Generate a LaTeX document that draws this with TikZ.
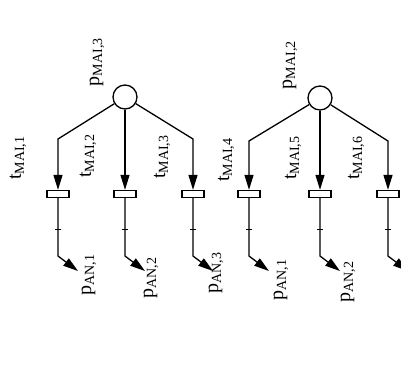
\documentclass[tikz,border=0pt]{standalone}
\usepackage{fontspec}
\setmainfont{Liberation Serif}
\usetikzlibrary{arrows.meta,positioning}

\newcommand{\pn}[2]{#1\textsubscript{#2}}

\begin{document}
\begin{tikzpicture}[x=1pt, y=-1pt,
    place/.style={circle, draw, line width=1.3pt, minimum size=24pt, inner sep=0pt},
    trans/.style={rectangle, draw, fill=white, line width=1.3pt, minimum width=22pt, minimum height=7pt, inner sep=0pt},
    arc/.style={line width=1.3pt, -{Triangle[length=15pt, width=9pt]}},
    lbl/.style={rotate=90, font=\fontsize{20}{20}\selectfont, inner sep=0pt}]
\useasboundingbox (0,0) rectangle (401,365);
\clip (0,0) rectangle (401,365);

% Places (input)
\node[place] (pmai3) at (125,97) {};
\node[place] (pmai2) at (320,98) {};
\node[lbl] (lmai3) at (97,62) {\pn{p}{MAI,3}};
\node[lbl] (lmai2) at (290,65) {\pn{p}{MAI,2}};

% Transitions
\foreach \i/\x in {1/58, 2/125, 3/193, 4/249, 5/320, 6/388} {
    \node[trans] (t\i) at (\x,194) {};
    \coordinate (b\i) at (\x,256);
    \coordinate (e\i) at (\x+20,271);
    \draw[thin] (\x-3,229) -- (\x+3,229);
}

% Bends of the outer arcs
\coordinate (k1) at (58,139);
\coordinate (k3) at (193,139);
\coordinate (k4) at (249,141);
\coordinate (k6) at (388,141);

% Arcs from the places
\draw[arc] (pmai3) -- (k1) -- (t1);
\draw[arc] (pmai3) -- (t2);
\draw[arc] (pmai3) -- (k3) -- (t3);
\draw[arc] (pmai2) -- (k4) -- (t4);
\draw[arc] (pmai2) -- (t5);
\draw[arc] (pmai2) -- (k6) -- (t6);

% Arcs to the output places
\foreach \i in {1,...,6} {
    \draw[arc] (t\i) -- (b\i) -- (e\i);
}

% Transition labels
\foreach \i/\x/\y in {1/18/158, 2/88/156, 3/162/157, 4/226/160, 5/293/158, 6/356/158} {
    \node[lbl] (lt\i) at (\x,\y) {\pn{t}{MAI,\i}};
}

% Output place labels
\node[lbl] (an1) at (89,275) {\pn{p}{AN,1}};
\node[lbl] (an2) at (151,278) {\pn{p}{AN,2}};
\node[lbl] (an3) at (216,273) {\pn{p}{AN,3}};
\node[lbl] (an4) at (281,280) {\pn{p}{AN,1}};
\node[lbl] (an5) at (348,282) {\pn{p}{AN,2}};

\end{tikzpicture}
\end{document}
